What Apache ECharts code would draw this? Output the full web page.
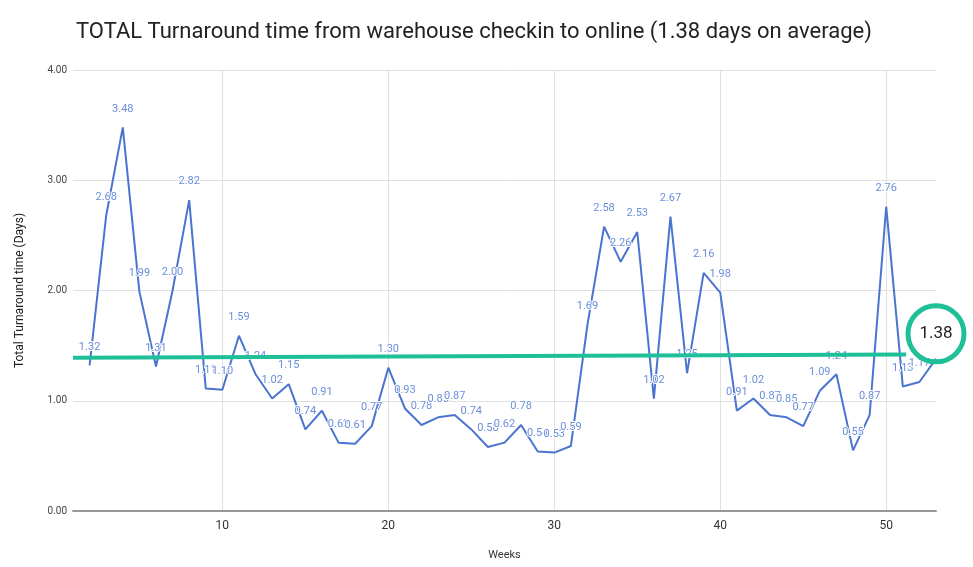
<!DOCTYPE html>
<html>
<head>
<meta charset="utf-8">
<script src="https://cdn.jsdelivr.net/npm/echarts@6/dist/echarts.min.js"></script>
<style>
  html, body { margin: 0; padding: 0; background: #fff; }
  #chart { width: 973px; height: 567px; }
</style>
</head>
<body>
<div id="chart"></div>
<script>
// weekly turnaround
const weeks = [2, 3, 4, 5, 6, 7, 8, 9, 10, 11, 12, 13, 14, 15, 16, 17, 18, 19, 20, 21, 22, 23, 24, 25, 26, 27,
    28, 29, 30, 31, 32, 33, 34, 35, 36, 37, 38, 39, 40, 41, 42, 43, 44, 45, 46, 47, 48, 49, 50, 51, 52, 53]
const turnaround = [1.32, 2.68, 3.48, 1.99, 1.31, 2.00, 2.82, 1.11, 1.10, 1.59, 1.24, 1.02, 1.15, 0.74, 0.91, 0.62,
    0.61, 0.77, 1.30, 0.93, 0.78, 0.85, 0.87, 0.74, 0.58, 0.62, 0.78, 0.54, 0.53, 0.59, 1.69, 2.58, 2.26, 2.53,
    1.02, 2.67, 1.25, 2.16, 1.98, 0.91, 1.02, 0.87, 0.85, 0.77, 1.09, 1.24, 0.55, 0.87, 2.76, 1.13, 1.17, 1.38]
const weekTicks = [10, 20, 30, 40, 50]
const average = 1.38
// hand-drawn average line, slightly tilted
const avgLineStart = [1, 1.39]
const avgLineEnd = [51.2, 1.42]

const teal = '#1fbf98'
const lastIdx = turnaround.length - 1

const points = weeks.map((w, i) => {
    const item = { value: [w, turnaround[i]] }
    if (i === lastIdx) item.label = { show: false }
    return item
})

const option = {
    animation: false,
    textStyle: { fontFamily: 'Roboto' },
    title: {
        text: 'TOTAL Turnaround time from warehouse checkin to online (' + average.toFixed(2) + ' days on average)',
        left: 71,
        top: 16,
        textStyle: { fontSize: 22, fontWeight: 'normal', color: '#222', fontFamily: 'Roboto' }
    },
    grid: { left: 73, right: 37, top: 70, bottom: 56 },
    xAxis: {
        type: 'value',
        min: 1,
        max: 53,
        name: 'Weeks',
        nameLocation: 'middle',
        nameGap: 39,
        nameTextStyle: { fontSize: 11, color: '#333' },
        axisLine: { show: true, lineStyle: { color: '#999', width: 2 } },
        axisTick: { show: false, customValues: weekTicks },
        axisLabel: { customValues: weekTicks, fontSize: 12, color: '#333', margin: 9 },
        splitLine: { show: true, lineStyle: { color: '#e0e0e0' } }
    },
    yAxis: {
        type: 'value',
        min: 0,
        max: 4,
        interval: 1,
        name: 'Total Turnaround time (Days)',
        nameLocation: 'middle',
        nameGap: 47,
        nameTextStyle: { fontSize: 12, color: '#222' },
        axisLine: { show: false },
        axisTick: { show: false },
        axisLabel: { formatter: v => v.toFixed(2), fontSize: 10, color: '#444', margin: 6 },
        splitLine: { lineStyle: { color: '#e0e0e0' } }
    },
    series: [
        {
            type: 'line',
            data: points,
            symbol: 'circle',
            symbolSize: 2,
            showSymbol: true,
            showAllSymbol: true,
            itemStyle: { color: 'rgba(74,116,207,0)', borderWidth: 0 },
            clip: false,
            lineStyle: { color: '#4a74cf', width: 2 },
            labelLayout: { hideOverlap: false },
            label: {
                show: true,
                position: 'top',
                distance: 12,
                fontSize: 11,
                color: '#6b8edb',
                textBorderColor: '#fff',
                textBorderWidth: 2,
                formatter: p => p.value[1].toFixed(2)
            },
            markLine: {
                silent: true,
                symbol: 'none',
                label: { show: false },
                lineStyle: { color: teal, width: 4, type: 'solid' },
                data: [[{ coord: avgLineStart }, { coord: avgLineEnd }]]
            },
            markPoint: {
                silent: true,
                symbol: 'circle',
                symbolSize: 56,
                symbolOffset: [0, -25],
                itemStyle: { color: 'rgba(255,255,255,0)', borderColor: teal, borderWidth: 5, opacity: 1 },
                label: {
                    show: true,
                    position: 'inside',
                    fontSize: 17,
                    color: '#222',
                    formatter: p => p.value.toFixed(2)
                },
                data: [{ coord: [weeks[lastIdx], turnaround[lastIdx]], value: turnaround[lastIdx] }]
            }
        }
    ]
}

const chart = echarts.init(document.getElementById('chart'))
chart.setOption(option)
</script>
</body>
</html>
